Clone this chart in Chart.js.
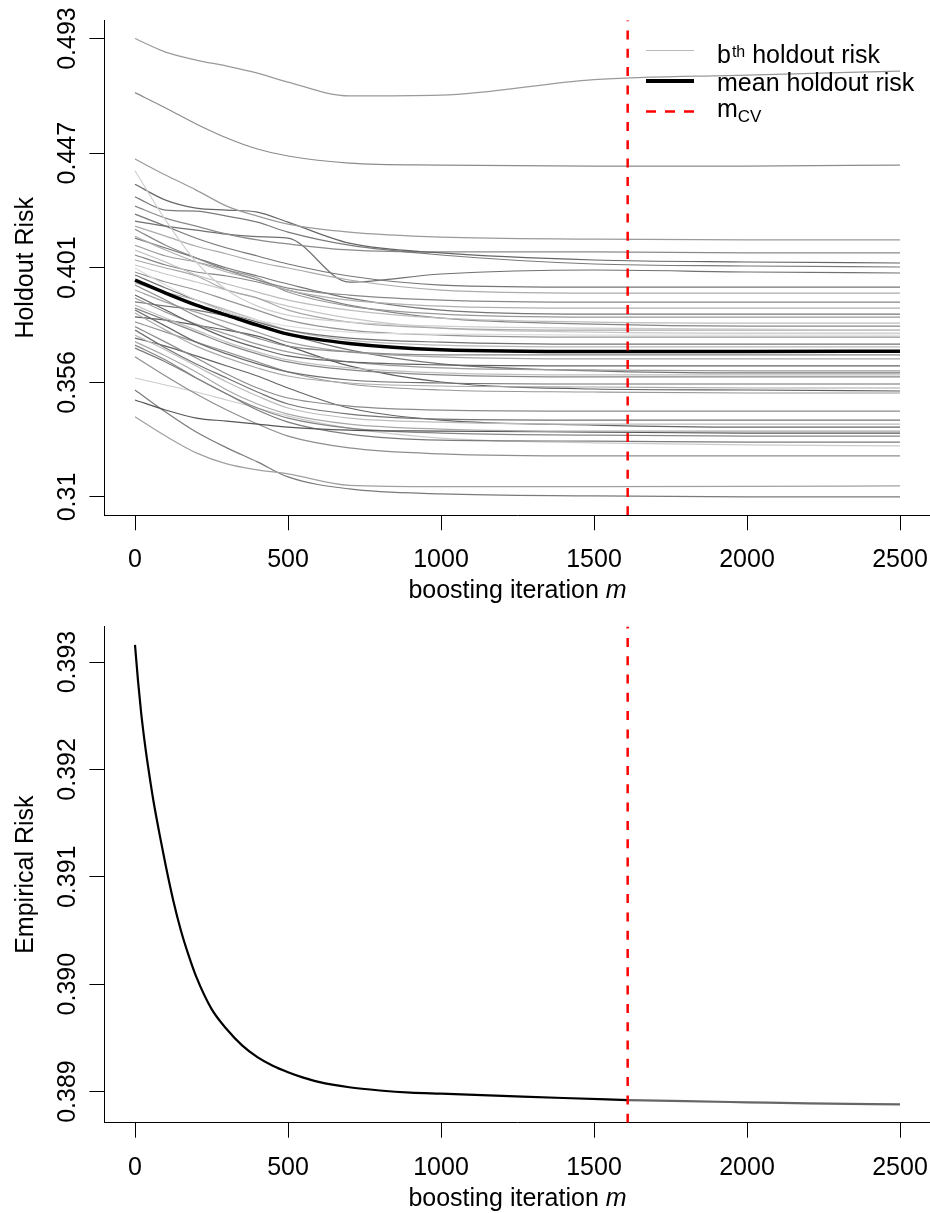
<!DOCTYPE html>
<html>
<head>
<meta charset="UTF-8">
<title>Holdout and empirical risk</title>
<script src="https://cdn.jsdelivr.net/npm/chart.js"></script>
<style>
  body { margin: 0; background: #ffffff; }
  canvas { position: absolute; left: 0; }
  #holdout { top: 0; }
  #empirical { top: 612px; }
</style>
</head>
<body>
<canvas id="holdout" width="930" height="612"></canvas>
<canvas id="empirical" width="930" height="601"></canvas>
<script>
// boosting iterations at which each holdout curve was read
const iters = [0, 100, 200, 300, 400, 500, 700, 1000, 1500, 2000, 2500];

// b-th holdout risk curves
const r01 = [0.4930, 0.4876, 0.4844, 0.4820, 0.4792, 0.4756, 0.4701, 0.4704, 0.4766, 0.4784, 0.4800];
const r02 = [0.4714, 0.4653, 0.4589, 0.4533, 0.4489, 0.4461, 0.4433, 0.4425, 0.4421, 0.4421, 0.4425];
const r03 = [0.4449, 0.4385, 0.4325, 0.4261, 0.4221, 0.4189, 0.4157, 0.4137, 0.4129, 0.4126, 0.4126];
const r04 = [0.4402, 0.4205, 0.4038, 0.3926, 0.3862, 0.3826, 0.3798, 0.3782, 0.3774, 0.3770, 0.3766];
const r05 = [0.4348, 0.4285, 0.4253, 0.4245, 0.4237, 0.4197, 0.4113, 0.4074, 0.4046, 0.4038, 0.4034];
const r06 = [0.4298, 0.4245, 0.4241, 0.4221, 0.4197, 0.4157, 0.4105, 0.4066, 0.4030, 0.4022, 0.4018];
const r07 = [0.4261, 0.4213, 0.4181, 0.4149, 0.4126, 0.4110, 0.4086, 0.4078, 0.4078, 0.4074, 0.4074];
const r08 = [0.4229, 0.4181, 0.4133, 0.4094, 0.4062, 0.4030, 0.3982, 0.3946, 0.3938, 0.3938, 0.3938];
const r09 = [0.4181, 0.4141, 0.4101, 0.4070, 0.4038, 0.4014, 0.3966, 0.3926, 0.3914, 0.3914, 0.3914];
const r10 = [0.4169, 0.4105, 0.4054, 0.4006, 0.3966, 0.3934, 0.3906, 0.3886, 0.3878, 0.3878, 0.3878];
const r11 = [0.4201, 0.4181, 0.4165, 0.4149, 0.4139, 0.4133, 0.3958, 0.3990, 0.4006, 0.3998, 0.3994];
const r12 = [0.4141, 0.4086, 0.4038, 0.3998, 0.3966, 0.3926, 0.3886, 0.3862, 0.3854, 0.3854, 0.3854];
const r13 = [0.4133, 0.4094, 0.4054, 0.4014, 0.3982, 0.3950, 0.3894, 0.3846, 0.3830, 0.3830, 0.3830];
const r14 = [0.4105, 0.4062, 0.4038, 0.4006, 0.3974, 0.3918, 0.3862, 0.3830, 0.3818, 0.3818, 0.3818];
const r15 = [0.4086, 0.4038, 0.3986, 0.3950, 0.3918, 0.3886, 0.3846, 0.3814, 0.3798, 0.3794, 0.3794];
const r16 = [0.4066, 0.4026, 0.3998, 0.3982, 0.3958, 0.3926, 0.3866, 0.3814, 0.3790, 0.3782, 0.3782];
const r17 = [0.4046, 0.4014, 0.3982, 0.3926, 0.3894, 0.3846, 0.3798, 0.3774, 0.3766, 0.3766, 0.3766];
const r18 = [0.4026, 0.3990, 0.3958, 0.3926, 0.3894, 0.3862, 0.3814, 0.3774, 0.3758, 0.3754, 0.3754];
const r19 = [0.4014, 0.3946, 0.3886, 0.3838, 0.3806, 0.3782, 0.3758, 0.3750, 0.3746, 0.3746, 0.3746];
const r20 = [0.3998, 0.3958, 0.3926, 0.3886, 0.3846, 0.3806, 0.3766, 0.3746, 0.3738, 0.3738, 0.3738];
const r21 = [0.3986, 0.3934, 0.3886, 0.3838, 0.3798, 0.3766, 0.3734, 0.3718, 0.3710, 0.3710, 0.3710];
const r22 = [0.3954, 0.3918, 0.3886, 0.3846, 0.3806, 0.3766, 0.3726, 0.3706, 0.3699, 0.3699, 0.3699];
const r23 = [0.3946, 0.3886, 0.3822, 0.3774, 0.3734, 0.3702, 0.3679, 0.3667, 0.3667, 0.3667, 0.3667];
const r24 = [0.3926, 0.3878, 0.3838, 0.3798, 0.3758, 0.3718, 0.3679, 0.3659, 0.3651, 0.3651, 0.3651];
const r25 = [0.3906, 0.3846, 0.3786, 0.3734, 0.3695, 0.3663, 0.3639, 0.3627, 0.3623, 0.3623, 0.3623];
const r26 = [0.3894, 0.3838, 0.3790, 0.3750, 0.3710, 0.3679, 0.3639, 0.3615, 0.3607, 0.3603, 0.3603];
const r27 = [0.3879, 0.3862, 0.3846, 0.3822, 0.3790, 0.3750, 0.3687, 0.3631, 0.3603, 0.3595, 0.3595];
const r28 = [0.3866, 0.3814, 0.3766, 0.3718, 0.3679, 0.3647, 0.3615, 0.3595, 0.3587, 0.3587, 0.3587];
const r29 = [0.3854, 0.3806, 0.3758, 0.3710, 0.3671, 0.3639, 0.3607, 0.3587, 0.3579, 0.3579, 0.3579];
const r30 = [0.3846, 0.3782, 0.3718, 0.3671, 0.3631, 0.3599, 0.3567, 0.3555, 0.3551, 0.3551, 0.3551];
const r31 = [0.3834, 0.3766, 0.3702, 0.3655, 0.3615, 0.3583, 0.3555, 0.3543, 0.3539, 0.3535, 0.3535];
const r32 = [0.3819, 0.3806, 0.3786, 0.3766, 0.3742, 0.3702, 0.3623, 0.3559, 0.3531, 0.3527, 0.3523];
const r33 = [0.3799, 0.3758, 0.3718, 0.3679, 0.3639, 0.3599, 0.3551, 0.3527, 0.3519, 0.3515, 0.3515];
const r34 = [0.3780, 0.3718, 0.3655, 0.3591, 0.3535, 0.3495, 0.3463, 0.3447, 0.3443, 0.3443, 0.3443];
const r35 = [0.3766, 0.3695, 0.3631, 0.3575, 0.3519, 0.3471, 0.3431, 0.3411, 0.3407, 0.3407, 0.3407];
const r36 = [0.3746, 0.3687, 0.3623, 0.3559, 0.3503, 0.3455, 0.3415, 0.3399, 0.3391, 0.3391, 0.3391];
const r37 = [0.3734, 0.3702, 0.3663, 0.3623, 0.3583, 0.3535, 0.3455, 0.3407, 0.3387, 0.3379, 0.3379];
const r38 = [0.3720, 0.3663, 0.3599, 0.3527, 0.3471, 0.3431, 0.3391, 0.3371, 0.3363, 0.3363, 0.3363];
const r39 = [0.3487, 0.3447, 0.3415, 0.3403, 0.3391, 0.3379, 0.3367, 0.3363, 0.3359, 0.3355, 0.3355];
const r40 = [0.3706, 0.3647, 0.3575, 0.3511, 0.3455, 0.3415, 0.3375, 0.3355, 0.3347, 0.3343, 0.3343];
const r41 = [0.3694, 0.3639, 0.3575, 0.3511, 0.3447, 0.3399, 0.3351, 0.3327, 0.3323, 0.3319, 0.3319];
const r42 = [0.3660, 0.3583, 0.3511, 0.3447, 0.3391, 0.3343, 0.3296, 0.3272, 0.3264, 0.3264, 0.3264];
const r43 = [0.3575, 0.3547, 0.3519, 0.3487, 0.3455, 0.3423, 0.3375, 0.3335, 0.3316, 0.3308, 0.3304];
const r44 = [0.3420, 0.3343, 0.3276, 0.3232, 0.3208, 0.3192, 0.3146, 0.3141, 0.3141, 0.3142, 0.3144];
const r45 = [0.3527, 0.3439, 0.3359, 0.3296, 0.3240, 0.3180, 0.3132, 0.3112, 0.3104, 0.3100, 0.3100];

const meanRisk = [0.3966, 0.3914, 0.3866, 0.3826, 0.3786, 0.3750, 0.3713, 0.3688, 0.3681, 0.3681, 0.3682];

const mCV = 1610;

// empirical risk, black up to mCV, grey afterwards
const empIters = [0, 10, 20, 30, 40, 50, 60, 80, 100, 125, 150, 175, 200, 250, 300, 350, 400, 450, 500, 550, 600, 700, 800, 900, 1000, 1200, 1400, 1610];
const empRisk = [0.39316, 0.39282, 0.39253, 0.39229, 0.39208, 0.39189, 0.39171, 0.39140, 0.39111, 0.39078, 0.39050, 0.39027, 0.39007, 0.38977, 0.38958, 0.38943, 0.38932, 0.38924, 0.38918, 0.38913, 0.38909, 0.38904, 0.38901, 0.38899, 0.38898, 0.38896, 0.38894, 0.38892];
const empItersLate = [1610, 1800, 2000, 2200, 2500];
const empRiskLate = [0.38892, 0.38891, 0.38890, 0.38889, 0.38888];

// axes
const iterRange = [-100, 2598];
const iterTicks = [0, 500, 1000, 1500, 2000, 2500];
const holdRange = [0.30268, 0.50032];
const holdTicks = [0.31, 0.35575, 0.4015, 0.44725, 0.493];
const holdTickLabels = ['0.31', '0.356', '0.401', '0.447', '0.493'];
const empRange = [0.38871, 0.39333];
const empTicks = [0.389, 0.390, 0.391, 0.392, 0.393];
const empTickLabels = ['0.389', '0.390', '0.391', '0.392', '0.393'];

const curves = [r01, r02, r03, r04, r05, r06, r07, r08, r09, r10, r11, r12, r13, r14, r15,
  r16, r17, r18, r19, r20, r21, r22, r23, r24, r25, r26, r27, r28, r29, r30,
  r31, r32, r33, r34, r35, r36, r37, r38, r39, r40, r41, r42, r43, r44, r45];
const shades = ['#9a9a9a', '#8c8c8c', '#9a9a9a', '#cfcfcf', '#666666', '#7a7a7a', '#8a8a8a', '#767676',
  '#ababab', '#888888', '#707070', '#b0b0b0', '#777777', '#999999', '#bdbdbd', '#858585', '#a8a8a8',
  '#c8c8c8', '#dddddd', '#959595', '#727272', '#bbbbbb', '#8a8a8a', '#a5a5a5', '#636363', '#9c9c9c',
  '#747474', '#c0c0c0', '#878787', '#6e6e6e', '#aaaaaa', '#5e5e5e', '#979797', '#8b8b8b', '#747474',
  '#bcbcbc', '#646464', '#a9a9a9', '#555555', '#868686', '#7b7b7b', '#8e8e8e', '#cccccc', '#a0a0a0', '#7a7a7a'];

const FONT = '"Liberation Sans", Arial, Helvetica, sans-serif';

function pts(xs, ys) {
  return xs.map((x, i) => ({ x: x, y: ys[i] }));
}

function lineSet(data, color, width, extra) {
  return Object.assign({
    data: data,
    borderColor: color,
    borderWidth: width,
    pointRadius: 0,
    fill: false,
    cubicInterpolationMode: 'monotone'
  }, extra || {});
}

// R-like axis labels and titles
function rAxes(yTicks, yLabels, yTitle) {
  return {
    id: 'rAxes',
    afterDraw(chart) {
      const ctx = chart.ctx, area = chart.chartArea;
      const xs = chart.scales.x, ys = chart.scales.y;
      ctx.save();
      ctx.fillStyle = '#000';
      ctx.font = '25px ' + FONT;
      ctx.textAlign = 'center';
      ctx.textBaseline = 'alphabetic';
      iterTicks.forEach(v => ctx.fillText(String(v), xs.getPixelForValue(v), area.bottom + 52));
      yTicks.forEach((v, i) => {
        ctx.save();
        ctx.translate(75, ys.getPixelForValue(v));
        ctx.rotate(-Math.PI / 2);
        ctx.fillText(yLabels[i], 0, 0);
        ctx.restore();
      });
      ctx.save();
      ctx.translate(33, (area.top + area.bottom) / 2);
      ctx.rotate(-Math.PI / 2);
      ctx.fillText(yTitle, 0, 0);
      ctx.restore();
      // x title with italic m
      const a = 'boosting iteration ';
      const wa = ctx.measureText(a).width;
      ctx.font = 'italic 25px ' + FONT;
      const wb = ctx.measureText('m').width;
      const x0 = 517.5 - (wa + wb) / 2, yb = area.bottom + 83;
      ctx.textAlign = 'left';
      ctx.fillText('m', x0 + wa, yb);
      ctx.font = '25px ' + FONT;
      ctx.fillText(a, x0, yb);
      ctx.restore();
    }
  };
}

const legendPlugin = {
  id: 'rLegend',
  afterDraw(chart) {
    const ctx = chart.ctx;
    ctx.save();
    ctx.lineCap = 'butt';
    ctx.beginPath();
    ctx.strokeStyle = '#bbbbbb'; ctx.lineWidth = 1;
    ctx.moveTo(646, 50.5); ctx.lineTo(694, 50.5); ctx.stroke();
    ctx.beginPath();
    ctx.strokeStyle = '#000'; ctx.lineWidth = 4;
    ctx.moveTo(646, 81); ctx.lineTo(694, 81); ctx.stroke();
    ctx.beginPath();
    ctx.strokeStyle = '#ff0000'; ctx.lineWidth = 2.5; ctx.setLineDash([10, 9]);
    ctx.moveTo(646, 111.5); ctx.lineTo(694, 111.5); ctx.stroke();
    ctx.setLineDash([]);
    ctx.fillStyle = '#000';
    ctx.textAlign = 'left';
    ctx.textBaseline = 'alphabetic';
    ctx.font = '25px ' + FONT;
    ctx.fillText('b', 717, 63);
    const wb = ctx.measureText('b').width;
    ctx.font = '16px ' + FONT;
    ctx.fillText('th', 717 + wb + 1, 56.5);
    const wth = ctx.measureText('th').width;
    ctx.font = '25px ' + FONT;
    ctx.fillText(' holdout risk', 717 + wb + 1 + wth, 63);
    ctx.fillText('mean holdout risk', 717, 90.5);
    ctx.fillText('m', 717, 116.5);
    const wm = ctx.measureText('m').width;
    ctx.font = '17px ' + FONT;
    ctx.fillText('CV', 717 + wm, 121.5);
    ctx.restore();
  }
};

function axisCfg(range, ticks, fitKey, fitVal) {
  return {
    type: 'linear',
    min: range[0],
    max: range[1],
    afterBuildTicks: s => { s.ticks = ticks.map(v => ({ value: v })); },
    ticks: { display: false },
    grid: { display: true, drawOnChartArea: false, drawTicks: true, tickLength: 15, color: '#000', lineWidth: 1 },
    border: { display: true, color: '#000', width: 1 },
    afterFit: s => { s[fitKey] = fitVal; }
  };
}

function makeChart(id, datasets, yRange, yTicks, yLabels, yTitle, top, xHeight, extraPlugins) {
  return new Chart(document.getElementById(id), {
    type: 'line',
    data: { datasets: datasets },
    options: {
      responsive: false,
      animation: false,
      events: [],
      layout: { padding: { top: top, left: 0, right: 0, bottom: 0 } },
      plugins: { legend: { display: false }, tooltip: { enabled: false } },
      scales: {
        x: axisCfg(iterRange, iterTicks, 'height', xHeight),
        y: axisCfg(yRange, yTicks, 'width', 104.4)
      }
    },
    plugins: [rAxes(yTicks, yLabels, yTitle)].concat(extraPlugins || [])
  });
}

const dash = { borderDash: [9, 9.3], cubicInterpolationMode: 'default', tension: 0 };

const holdSets = [
  lineSet(pts([mCV, mCV], holdRange), '#ff0000', 2.5, dash),
  lineSet(pts(iters, meanRisk), '#000000', 3.5)
].concat(curves.map((c, i) => lineSet(pts(iters, c), shades[i], 1.2)));

makeChart('holdout', holdSets, holdRange, holdTicks, holdTickLabels, 'Holdout Risk', 20.2, 96.7, [legendPlugin]);

const empSets = [
  lineSet(pts([mCV, mCV], empRange), '#ff0000', 2.5, dash),
  lineSet(pts(empIters, empRisk), '#000000', 2.2),
  lineSet(pts(empItersLate, empRiskLate), '#666666', 2.2)
];

makeChart('empirical', empSets, empRange, empTicks, empTickLabels, 'Empirical Risk', 14.6, 90.3);
</script>
</body>
</html>
